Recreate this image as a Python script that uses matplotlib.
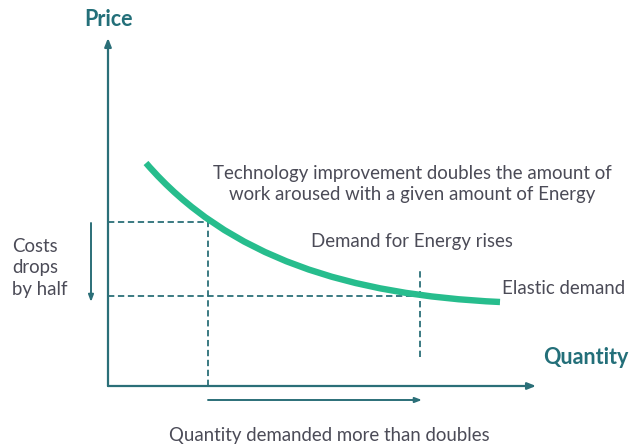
import matplotlib
import matplotlib.pyplot as plt
from matplotlib.path import Path
from matplotlib.patches import PathPatch

matplotlib.use('Agg')

# demand curve as a cubic bezier (start, two handles, end), origin at the axes corner
curve_q = [38, 120, 242, 392]
curve_p = [223, 128, 91, 84]

before = (100, 164)   # quantity, price before the cost drop
after = (312, 90)     # quantity, price after

label_font = ['Lato', 'DejaVu Sans']
teal = '#236f79'
axis_col = '#2b6f78'
green = '#27bd8d'
grey = '#4b4b57'

fig = plt.figure(figsize=(6.33, 4.47), dpi=100)
ax = fig.add_axes([0, 0, 1, 1])
ax.set_xlim(-108, 525)
ax.set_ylim(-61, 386)
ax.axis('off')

# axes with arrows
head = '-|>,head_length=0.5,head_width=0.2'
ax.annotate('', xy=(0, 348), xytext=(0, 0),
            arrowprops=dict(arrowstyle=head, color=axis_col, lw=1.6, shrinkA=0, shrinkB=0))
ax.annotate('', xy=(428, 0), xytext=(0, 0),
            arrowprops=dict(arrowstyle=head, color=axis_col, lw=1.6, shrinkA=0, shrinkB=0))

# curve
path = Path(list(zip(curve_q, curve_p)), [Path.MOVETO, Path.CURVE4, Path.CURVE4, Path.CURVE4])
ax.add_patch(PathPatch(path, facecolor='none', edgecolor=green, lw=4.6, capstyle='butt', zorder=3))

# dashed guides
dash = dict(color=axis_col, lw=1.3, ls=(0, (3.5, 2)))
ax.plot([0, before[0]], [before[1], before[1]], **dash)
ax.plot([before[0], before[0]], [0, before[1]], **dash)
ax.plot([0, after[0]], [after[1], after[1]], **dash)
ax.plot([after[0], after[0]], [29, 118], **dash)

# change arrows
small = '-|>,head_length=0.4,head_width=0.15'
ax.annotate('', xy=(-17, 84), xytext=(-17, 163),
            arrowprops=dict(arrowstyle=small, color=axis_col, lw=1.4, shrinkA=0, shrinkB=0))
ax.annotate('', xy=(314, -14), xytext=(100, -14),
            arrowprops=dict(arrowstyle=small, color=axis_col, lw=1.4, shrinkA=0, shrinkB=0))

# labels
ax.text(1, 366, 'Price', color=teal, fontsize=15.5, fontweight='bold', family=label_font, ha='center', va='center')
ax.text(521, 28, 'Quantity', color=teal, fontsize=15.5, fontweight='bold', family=label_font, ha='right', va='center')
ax.text(304, 202, 'Technology improvement doubles the amount of\nwork aroused with a given amount of Energy',
        color=grey, fontsize=13.4, family=label_font, ha='center', va='center', linespacing=1.3)
ax.text(304, 144, 'Demand for Energy rises', color=grey, fontsize=13.4, family=label_font, ha='center', va='center')
ax.text(394, 97, 'Elastic demand', color=grey, fontsize=13.4, family=label_font, ha='left', va='center')
ax.text(-96, 118, 'Costs\ndrops\nby half', color=grey, fontsize=13.4, family=label_font, ha='left', va='center', linespacing=1.3)
ax.text(221, -49, 'Quantity demanded more than doubles', color=grey, fontsize=13.4, family=label_font, ha='center', va='center')

fig.savefig('out.png', dpi=100)
